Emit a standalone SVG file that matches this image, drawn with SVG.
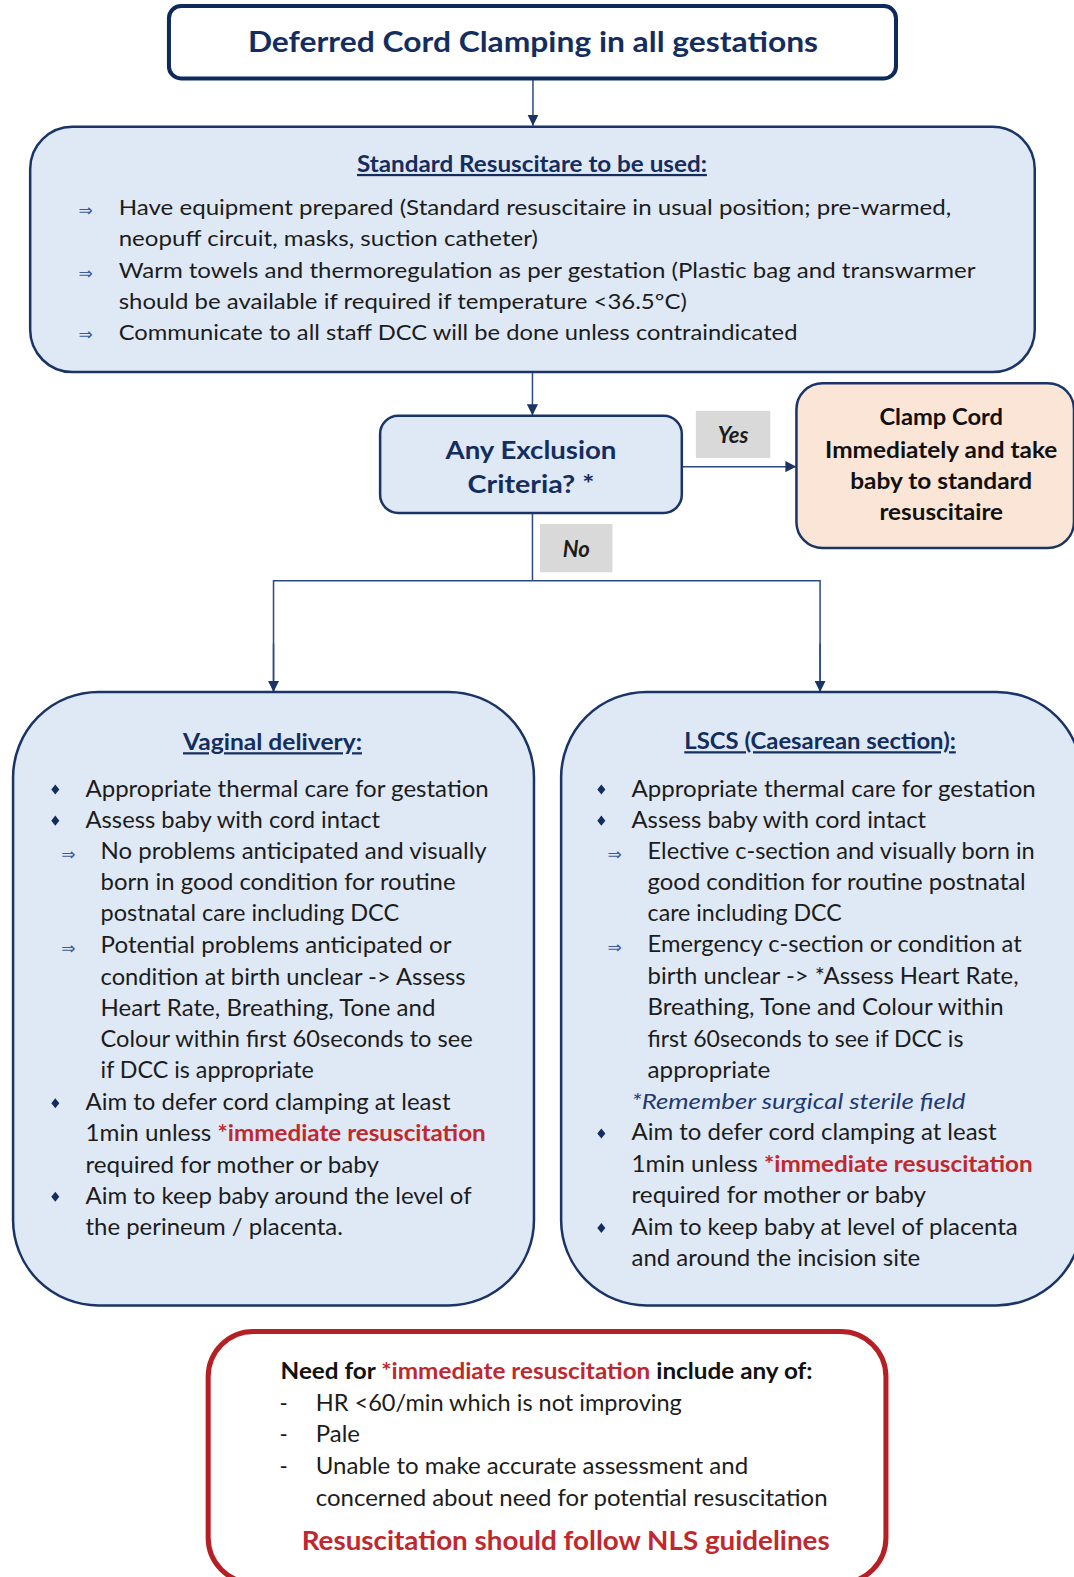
<svg xmlns="http://www.w3.org/2000/svg" width="1074" height="1577" viewBox="0 0 1074 1577">
<defs>
<style>
text{font-family:Lato,"Noto Sans","Liberation Sans",sans-serif;}
.body{font-size:22px;fill:#1c1c1c;}
.std{font-size:21px;fill:#1c1c1c;}
.hd{font-weight:bold;fill:#142d5f;text-decoration:underline;font-size:22px;}
.red{fill:#c0282d;font-weight:bold;}
.arw{font-family:"DejaVu Sans",sans-serif;font-size:17px;fill:#3b5c9c;}
.conn{stroke:#2c4a80;stroke-width:1.5;fill:none;}
.blue{fill:#dfe9f5;stroke:#1a3467;stroke-width:2.5;}
.lbl{fill:#d9d9d9;}
.lbt{font-size:22px;font-weight:bold;font-style:italic;fill:#1c1c1c;text-anchor:middle;}
.dia{fill:#142d5f;}
</style>
<marker id="ah" viewBox="0 0 10 10" refX="10" refY="5" markerWidth="11" markerHeight="11" markerUnits="userSpaceOnUse" orient="auto">
<path d="M0,0 L10,5 L0,10 z" fill="#1a3467"/>
</marker>
<path id="dm" d="M0,-5 L4,0 L0,5 L-4,0 z"/>
</defs>
<rect x="0" y="0" width="1074" height="1577" fill="#ffffff"/>
<g transform="scale(1.0056,1.0057)">

<g id="connectors">
<line class="conn" x1="530" y1="78" x2="530" y2="125" marker-end="url(#ah)"/>
<line class="conn" x1="529.5" y1="371" x2="529.5" y2="413" marker-end="url(#ah)"/>
<line class="conn" x1="678" y1="464" x2="792" y2="464" marker-end="url(#ah)"/>
<polyline class="conn" points="529.5,510 529.5,577.5"/>
<polyline class="conn" points="272,688 272,577.5 815.5,577.5 815.5,688"/>
<line class="conn" x1="272" y1="640" x2="272" y2="688" marker-end="url(#ah)"/>
<line class="conn" x1="815.5" y1="640" x2="815.5" y2="688" marker-end="url(#ah)"/>
</g>

<g id="node-title">
<rect x="168" y="6" width="723" height="72" rx="12" fill="#ffffff" stroke="#0e2a5c" stroke-width="4"/>
<text x="530" y="52" text-anchor="middle" font-size="29" font-weight="bold" fill="#142d5f" textLength="567" lengthAdjust="spacingAndGlyphs">Deferred Cord Clamping in all gestations</text>
</g>

<g id="node-standard">
<rect class="blue" x="30" y="126" width="999" height="244" rx="42"/>
<text class="hd" x="529" y="171" text-anchor="middle" textLength="348" lengthAdjust="spacingAndGlyphs">Standard Resuscitare to be used:</text>
<text class="arw" x="78" y="215">⇒</text>
<text class="arw" x="78" y="277">⇒</text>
<text class="arw" x="78" y="338">⇒</text>
<text class="std" x="118" y="214" textLength="828" lengthAdjust="spacingAndGlyphs">Have equipment prepared (Standard resuscitaire in usual position; pre-warmed,</text>
<text class="std" x="118" y="245" textLength="417" lengthAdjust="spacingAndGlyphs">neopuff circuit, masks, suction catheter)</text>
<text class="std" x="118" y="276" textLength="852" lengthAdjust="spacingAndGlyphs">Warm towels and thermoregulation as per gestation (Plastic bag and transwarmer</text>
<text class="std" x="118" y="307" textLength="565" lengthAdjust="spacingAndGlyphs">should be available if required if temperature &lt;36.5ºC)</text>
<text class="std" x="118" y="338" textLength="675" lengthAdjust="spacingAndGlyphs">Communicate to all staff DCC will be done unless contraindicated</text>
</g>

<g id="node-exclusion">
<rect class="blue" x="378" y="413.5" width="300" height="96.5" rx="18"/>
<text x="528" y="456" text-anchor="middle" font-size="25" font-weight="bold" fill="#142d5f" textLength="170" lengthAdjust="spacingAndGlyphs">Any Exclusion</text>
<text x="528" y="490" text-anchor="middle" font-size="25" font-weight="bold" fill="#142d5f" textLength="126" lengthAdjust="spacingAndGlyphs">Criteria? *</text>
</g>

<g id="label-yes">
<rect class="lbl" x="692" y="408.5" width="74" height="47"/>
<text class="lbt" x="729" y="440">Yes</text>
</g>

<g id="label-no">
<rect class="lbl" x="537" y="521" width="72" height="48"/>
<text class="lbt" x="573" y="554">No</text>
</g>

<g id="node-clamp">
<rect x="792" y="381" width="276" height="164" rx="26" fill="#fbe5d6" stroke="#1a3467" stroke-width="2.5"/>
<g font-size="22" font-weight="bold" fill="#111111" text-anchor="middle">
<text x="936" y="423" textLength="123" lengthAdjust="spacingAndGlyphs">Clamp Cord</text>
<text x="936" y="455.5" textLength="231" lengthAdjust="spacingAndGlyphs">Immediately and take</text>
<text x="936" y="486" textLength="181" lengthAdjust="spacingAndGlyphs">baby to standard</text>
<text x="936" y="517" textLength="123" lengthAdjust="spacingAndGlyphs">resuscitaire</text>
</g>
</g>

<g id="node-vaginal">
<rect class="blue" x="13" y="688" width="518" height="610" rx="85"/>
<text class="hd" x="271" y="746" text-anchor="middle" textLength="178" lengthAdjust="spacingAndGlyphs">Vaginal delivery:</text>
<use href="#dm" class="dia" x="55" y="785"/>
<use href="#dm" class="dia" x="55" y="816"/>
<use href="#dm" class="dia" x="55" y="1097"/>
<use href="#dm" class="dia" x="55" y="1190"/>
<text class="arw" x="61" y="855">⇒</text>
<text class="arw" x="61" y="949">⇒</text>
<text class="body" x="85" y="792" textLength="401" lengthAdjust="spacingAndGlyphs">Appropriate thermal care for gestation</text>
<text class="body" x="85" y="823" textLength="293" lengthAdjust="spacingAndGlyphs">Assess baby with cord intact</text>
<text class="body" x="100" y="854" textLength="384" lengthAdjust="spacingAndGlyphs">No problems anticipated and visually</text>
<text class="body" x="100" y="885" textLength="353" lengthAdjust="spacingAndGlyphs">born in good condition for routine</text>
<text class="body" x="100" y="916" textLength="297" lengthAdjust="spacingAndGlyphs">postnatal care including DCC</text>
<text class="body" x="100" y="948" textLength="349" lengthAdjust="spacingAndGlyphs">Potential problems anticipated or</text>
<text class="body" x="100" y="979" textLength="363" lengthAdjust="spacingAndGlyphs">condition at birth unclear -&gt; Assess</text>
<text class="body" x="100" y="1010" textLength="333" lengthAdjust="spacingAndGlyphs">Heart Rate, Breathing, Tone and</text>
<text class="body" x="100" y="1041" textLength="370" lengthAdjust="spacingAndGlyphs">Colour within first 60seconds to see</text>
<text class="body" x="100" y="1072" textLength="212" lengthAdjust="spacingAndGlyphs">if DCC is appropriate</text>
<text class="body" x="85" y="1104" textLength="363" lengthAdjust="spacingAndGlyphs">Aim to defer cord clamping at least</text>
<text class="body" x="85" y="1135" textLength="398" lengthAdjust="spacingAndGlyphs">1min unless <tspan class="red">*immediate resuscitation</tspan></text>
<text class="body" x="85" y="1166" textLength="292" lengthAdjust="spacingAndGlyphs">required for mother or baby</text>
<text class="body" x="85" y="1197" textLength="384" lengthAdjust="spacingAndGlyphs">Aim to keep baby around the level of</text>
<text class="body" x="85" y="1228" textLength="256" lengthAdjust="spacingAndGlyphs">the perineum / placenta.</text>
</g>

<g id="node-lscs">
<rect class="blue" x="558" y="688" width="518" height="610" rx="85"/>
<text class="hd" x="815.5" y="745" text-anchor="middle" textLength="270" lengthAdjust="spacingAndGlyphs">LSCS (Caesarean section):</text>
<use href="#dm" class="dia" x="598" y="785"/>
<use href="#dm" class="dia" x="598" y="816"/>
<use href="#dm" class="dia" x="598" y="1127"/>
<use href="#dm" class="dia" x="598" y="1221"/>
<text class="arw" x="604" y="855">⇒</text>
<text class="arw" x="604" y="948">⇒</text>
<text class="body" x="628" y="792" textLength="402" lengthAdjust="spacingAndGlyphs">Appropriate thermal care for gestation</text>
<text class="body" x="628" y="823" textLength="293" lengthAdjust="spacingAndGlyphs">Assess baby with cord intact</text>
<text class="body" x="644" y="854" textLength="385" lengthAdjust="spacingAndGlyphs">Elective c-section and visually born in</text>
<text class="body" x="644" y="885" textLength="376" lengthAdjust="spacingAndGlyphs">good condition for routine postnatal</text>
<text class="body" x="644" y="916" textLength="193" lengthAdjust="spacingAndGlyphs">care including DCC</text>
<text class="body" x="644" y="947" textLength="372" lengthAdjust="spacingAndGlyphs">Emergency c-section or condition at</text>
<text class="body" x="644" y="978" textLength="369" lengthAdjust="spacingAndGlyphs">birth unclear -&gt; *Assess Heart Rate,</text>
<text class="body" x="644" y="1009" textLength="354" lengthAdjust="spacingAndGlyphs">Breathing, Tone and Colour within</text>
<text class="body" x="644" y="1041" textLength="314" lengthAdjust="spacingAndGlyphs">first 60seconds to see if DCC is</text>
<text class="body" x="644" y="1072" textLength="122" lengthAdjust="spacingAndGlyphs">appropriate</text>
<text class="body" x="628" y="1103" font-style="italic" style="fill:#1f3a73" textLength="332" lengthAdjust="spacingAndGlyphs">*Remember surgical sterile field</text>
<text class="body" x="628" y="1134" textLength="363" lengthAdjust="spacingAndGlyphs">Aim to defer cord clamping at least</text>
<text class="body" x="628" y="1165" textLength="399" lengthAdjust="spacingAndGlyphs">1min unless <tspan class="red">*immediate resuscitation</tspan></text>
<text class="body" x="628" y="1196" textLength="293" lengthAdjust="spacingAndGlyphs">required for mother or baby</text>
<text class="body" x="628" y="1228" textLength="384" lengthAdjust="spacingAndGlyphs">Aim to keep baby at level of placenta</text>
<text class="body" x="628" y="1259" textLength="287" lengthAdjust="spacingAndGlyphs">and around the incision site</text>
</g>

<g id="node-immediate">
<rect x="207" y="1324" width="674" height="250" rx="45" fill="#ffffff" stroke="#b52025" stroke-width="5"/>
<text class="body" x="279" y="1371" style="font-weight:bold;fill:#111111" textLength="529" lengthAdjust="spacingAndGlyphs">Need for <tspan class="red">*immediate resuscitation</tspan> include any of:</text>
<text class="body" x="278" y="1403">-</text>
<text class="body" x="278" y="1434">-</text>
<text class="body" x="278" y="1466">-</text>
<text class="body" x="314" y="1403" textLength="364" lengthAdjust="spacingAndGlyphs">HR &lt;60/min which is not improving</text>
<text class="body" x="314" y="1434" textLength="44" lengthAdjust="spacingAndGlyphs">Pale</text>
<text class="body" x="314" y="1466" textLength="430" lengthAdjust="spacingAndGlyphs">Unable to make accurate assessment and</text>
<text class="body" x="314" y="1497" textLength="509" lengthAdjust="spacingAndGlyphs">concerned about need for potential resuscitation</text>
<text x="300" y="1541" font-size="27" font-weight="bold" fill="#c0282d" textLength="525" lengthAdjust="spacingAndGlyphs">Resuscitation should follow NLS guidelines</text>
</g>

</g>
</svg>
